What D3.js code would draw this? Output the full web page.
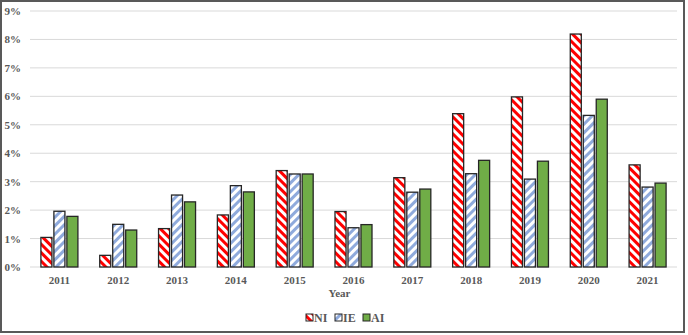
<!DOCTYPE html>
<meta charset="utf-8">
<style>
  body { margin: 0; background: #fff; }
  .axis text { font: bold 11px "Liberation Serif", "DejaVu Serif", serif; fill: #595959; }
</style>
<svg width="688" height="335"></svg>
<script src="https://d3js.org/d3.v7.min.js"></script>
<script>
  var years = ["2011", "2012", "2013", "2014", "2015", "2016", "2017", "2018", "2019", "2020", "2021"];
  var seriesNames = ["NI", "IE", "AI"];
  var NI = [1.04, 0.41, 1.35, 1.83, 3.39, 1.95, 3.14, 5.39, 5.98, 8.19, 3.59];
  var IE = [1.96, 1.50, 2.53, 2.86, 3.27, 1.38, 2.63, 3.28, 3.09, 5.33, 2.81];
  var AI = [1.78, 1.30, 2.29, 2.64, 3.27, 1.49, 2.74, 3.75, 3.72, 5.90, 2.95];
  var yTicks = [0, 1, 2, 3, 4, 5, 6, 7, 8, 9];

  var values = { NI: NI, IE: IE, AI: AI };
  var data = years.map(function (y, i) {
    return { year: y, vals: seriesNames.map(function (s) { return { key: s, value: values[s][i] }; }) };
  });

  var svg = d3.select("svg");
  var plotLeft = 30, plotRight = 677, plotTop = 11, plotBottom = 267;

  // outer frame
  svg.append("rect")
    .attr("x", 1).attr("y", 1).attr("width", 683).attr("height", 331)
    .attr("fill", "none").attr("stroke", "#595959").attr("stroke-width", 2);

  var defs = svg.append("defs");
  var pNI = defs.append("pattern").attr("id", "pNI").attr("patternUnits", "userSpaceOnUse")
    .attr("width", 6).attr("height", 6).attr("patternTransform", "rotate(-45)");
  pNI.append("rect").attr("width", 6).attr("height", 6).attr("fill", "#fff");
  pNI.append("rect").attr("width", 3).attr("height", 6).attr("fill", "#FF0000");

  var pIE = defs.append("pattern").attr("id", "pIE").attr("patternUnits", "userSpaceOnUse")
    .attr("width", 6).attr("height", 6).attr("patternTransform", "rotate(45)");
  pIE.append("rect").attr("width", 6).attr("height", 6).attr("fill", "#fff");
  pIE.append("rect").attr("width", 3).attr("height", 6).attr("fill", "#8FAADC");

  var fills = { NI: "url(#pNI)", IE: "url(#pIE)", AI: "#70AD47" };

  var x0 = d3.scaleBand().domain(years).range([plotLeft, plotRight]);
  var groupW = 37;
  var x1 = d3.scaleBand().domain(seriesNames).range([0, groupW]).paddingInner(0.15);
  var y = d3.scaleLinear().domain([0, 9]).range([plotBottom, plotTop]);

  // gridlines
  svg.append("g").selectAll("line").data(yTicks).enter().append("line")
    .attr("x1", plotLeft).attr("x2", plotRight)
    .attr("y1", function (d) { return y(d); }).attr("y2", function (d) { return y(d); })
    .attr("stroke", "#D9D9D9").attr("stroke-width", 1);

  var yAxis = svg.append("g").attr("class", "axis")
    .attr("transform", "translate(" + plotLeft + ",0)")
    .call(d3.axisLeft(y).tickValues(yTicks).tickSize(0).tickPadding(9).tickFormat(function (d) { return d + "%"; }));
  yAxis.select(".domain").remove();

  var xAxis = svg.append("g").attr("class", "axis")
    .attr("transform", "translate(0," + plotBottom + ")")
    .call(d3.axisBottom(x0).tickSize(0).tickPadding(9));
  xAxis.select(".domain").remove();

  var groups = svg.selectAll(".grp").data(data).enter().append("g")
    .attr("class", "grp")
    .attr("transform", function (d) { return "translate(" + (x0(d.year) + (x0.bandwidth() - groupW) / 2) + ",0)"; });

  groups.selectAll("rect").data(function (d) { return d.vals; }).enter().append("rect")
    .attr("x", function (d) { return x1(d.key); })
    .attr("y", function (d) { return y(d.value); })
    .attr("width", x1.bandwidth())
    .attr("height", function (d) { return plotBottom - y(d.value); })
    .attr("fill", function (d) { return fills[d.key]; })
    .attr("stroke", "#262626").attr("stroke-width", 1.3);

  svg.append("text").attr("x", (plotLeft + plotRight) / 2 - 14).attr("y", 297)
    .attr("text-anchor", "middle")
    .style("font", "bold 11px 'Liberation Serif', serif").style("fill", "#595959")
    .text("Year");

  // legend
  var legend = svg.append("g").attr("transform", "translate(306,318)");
  var lx = [0, 29, 57];
  seriesNames.forEach(function (s, i) {
    var g = legend.append("g").attr("transform", "translate(" + lx[i] + ",0)");
    g.append("rect").attr("x", 0).attr("y", -4).attr("width", 7).attr("height", 7)
      .attr("fill", fills[s]).attr("stroke", "#262626").attr("stroke-width", 1);
    g.append("text").attr("x", 8).attr("y", 4)
      .style("font", "bold 12px 'Liberation Serif', serif").style("fill", "#595959")
      .text(s);
  });
</script>
